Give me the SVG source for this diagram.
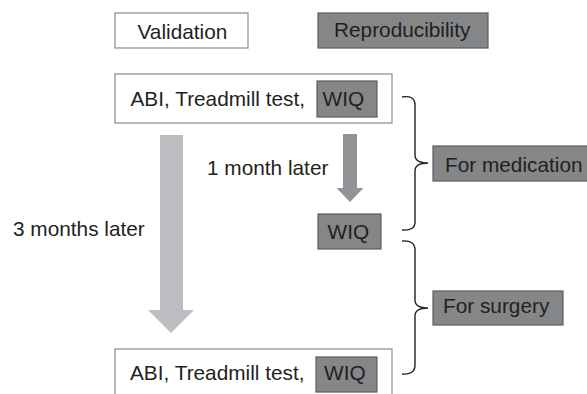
<svg xmlns="http://www.w3.org/2000/svg" width="587" height="394" viewBox="0 0 587 394">
<style>
  text { font-family: "Liberation Sans", Arial, sans-serif; font-size: 20.8px; fill: #231f20; }
  .wbox { fill: #ffffff; stroke: #8c8c8c; stroke-width: 1.2; }
  .gbox { fill: #858688; stroke: #5e5e5e; stroke-width: 1.2; }
  .brace { fill: none; stroke: #231f20; stroke-width: 1.4; }
</style>
<rect width="587" height="394" fill="#ffffff"/>
<g id="validation">
  <rect class="wbox" x="115" y="13" width="133" height="35"/>
  <text x="137.5" y="38.5">Validation</text>
</g>
<g id="reproducibility">
  <rect class="gbox" x="318" y="13" width="170" height="35"/>
  <text x="334" y="37">Reproducibility</text>
</g>
<g id="baseline">
  <rect class="wbox" x="115" y="74" width="277" height="49"/>
  <text x="130.5" y="106">ABI, Treadmill test,</text>
  <rect class="gbox" x="317" y="81" width="60" height="36"/>
  <text x="322.5" y="106">WIQ</text>
</g>
<g id="wiq-1month">
  <rect class="gbox" x="318" y="214" width="63" height="35"/>
  <text x="327.5" y="239">WIQ</text>
</g>
<g id="followup">
  <rect class="wbox" x="115" y="349" width="277" height="50"/>
  <text x="130" y="380">ABI, Treadmill test,</text>
  <rect class="gbox" x="316" y="357" width="61" height="35"/>
  <text x="324" y="380">WIQ</text>
</g>
<g id="for-medication">
  <rect class="gbox" x="433" y="146" width="160" height="35"/>
  <text x="445" y="172">For medication</text>
</g>
<g id="for-surgery">
  <rect class="gbox" x="433" y="291" width="130" height="34"/>
  <text x="443" y="313">For surgery</text>
</g>
<g id="labels">
  <text x="207" y="175">1 month later</text>
  <text x="13" y="236">3 months later</text>
</g>
<g id="connectors">
  <polygon points="160,135 183,135 183,310 194,310 171,333 148,310 160,310" fill="#bbbdc0"/>
  <polygon points="343,134 357,134 357,188 363.5,188 350,202 336.5,188 343,188" fill="#919396"/>
  <path class="brace" d="M402,97 Q415,95 415,105 L415,155 Q415,163 428,163 Q415,163 415,171 L415,222 Q415,231 402,230"/>
  <path class="brace" d="M402,241 Q415,240 415,250 L415,300 Q415,308 428,308 Q415,308 415,316 L415,365 Q415,375 402,374"/>
</g>
</svg>
